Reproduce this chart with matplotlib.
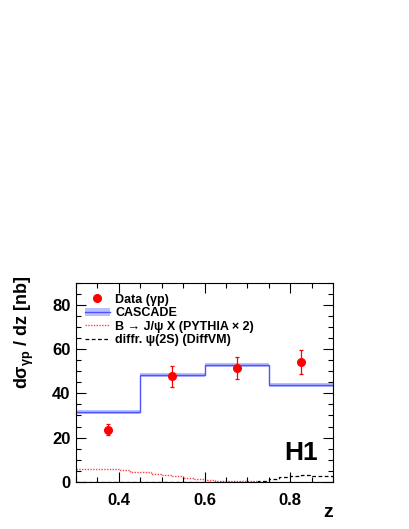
import matplotlib
matplotlib.use("Agg")
import matplotlib.pyplot as plt
import numpy as np
from matplotlib.lines import Line2D
from matplotlib.patches import Patch
from matplotlib.ticker import MultipleLocator

plt.rcParams['font.family'] = ['Liberation Sans', 'DejaVu Sans']
plt.rcParams['font.weight'] = 'bold'
plt.rcParams['mathtext.fontset'] = 'custom'
plt.rcParams['mathtext.rm'] = 'Liberation Sans:bold'
plt.rcParams['mathtext.it'] = 'Liberation Sans:bold'
plt.rcParams['mathtext.bf'] = 'Liberation Sans:bold'

# data points (gamma p)
z_data = [0.375, 0.525, 0.675, 0.825]
xs_data = [23.6, 47.7, 51.5, 54.3]
xs_err = [2.5, 4.6, 5.0, 5.5]

# CASCADE histogram
casc_edges = [0.3, 0.45, 0.6, 0.75, 0.9]
casc_vals = [31.5, 48.4, 52.8, 43.8]
casc_band = 0.9

# B -> J/psi X (PYTHIA x 2), fine bins
fine_edges = np.linspace(0.3, 0.9, 25)
bdecay_vals = [5.6, 5.6, 5.6, 5.6, 5.2, 4.6, 4.2, 3.6, 3.0, 2.4, 1.6, 1.2,
               0.9, 0.5, 0.3, 0.2, 0.1, 0.05, 0.03, 0.02, 0.02, 0.01, 0.01, 0.01]
# diffractive psi(2S)
diffr_vals = [0, 0, 0, 0, 0, 0, 0, 0, 0, 0, 0, 0,
              0, 0, 0, 0, 0, 0.4, 1.4, 2.0, 2.8, 2.9, 2.8, 2.8]

band_col = "#a8aeff"
line_col = "#4a55ff"

fig = plt.figure(figsize=(4.09, 5.29), dpi=100)
ax = fig.add_axes([0.186, 0.0894, 0.628, 0.3756])

# cascade band + line
ax.stairs(np.array(casc_vals) + casc_band, casc_edges,
          baseline=np.array(casc_vals) - casc_band, fill=True,
          color=band_col, alpha=0.8, linewidth=0)
ax.stairs(casc_vals, casc_edges, baseline=None, color=line_col, linewidth=1.0)

ax.stairs(bdecay_vals, fine_edges, baseline=None, color="#ff4040",
          linestyle=(0, (1, 1)), linewidth=1.0)
ax.stairs(diffr_vals, fine_edges, baseline=None, color="black",
          linestyle=(0, (3, 2)), linewidth=0.9)

ax.errorbar(z_data, xs_data, yerr=xs_err, fmt="o", color="red", markersize=5.5,
            elinewidth=0.9, capsize=1.5, capthick=0.9)

ax.set_xlim(0.3, 0.9)
ax.set_ylim(0, 90)
ax.xaxis.set_major_locator(MultipleLocator(0.2))
ax.xaxis.set_minor_locator(MultipleLocator(0.05))
ax.yaxis.set_major_locator(MultipleLocator(20))
ax.yaxis.set_minor_locator(MultipleLocator(5))
ax.tick_params(which="both", direction="in", top=True, right=True, width=0.8)
ax.tick_params(which="major", length=7, labelsize=12)
ax.tick_params(axis="x", which="major", pad=8)
ax.tick_params(axis="y", which="major", pad=4)
ax.tick_params(which="minor", length=3.5)
for lbl in ax.get_xticklabels() + ax.get_yticklabels():
    lbl.set_fontweight("bold")
for sp in ax.spines.values():
    sp.set_linewidth(0.8)

ax.set_ylabel(r"d$\sigma_{\gamma p}$ / dz [nb]", fontsize=13, fontweight="bold")
ax.yaxis.set_label_coords(-0.155, 0.75)
fig.text(0.802, 0.022, "z", fontsize=14, fontweight="bold", ha="center")

ax.text(0.94, 0.11, "H1", transform=ax.transAxes, fontsize=19, fontweight="bold", ha="right")

handles = [
    Line2D([], [], marker="o", color="red", linestyle="none", markersize=5.5),
    (Patch(facecolor=band_col, alpha=0.8, linewidth=0),
     Line2D([], [], color=line_col, linewidth=1.0)),
    Line2D([], [], color="#ff4040", linestyle=(0, (1, 1)), linewidth=1.0),
    Line2D([], [], color="black", linestyle=(0, (3, 2)), linewidth=0.9),
]
labels = [u"Data (\u03b3p)", "CASCADE", u"B \u2192 J/\u03c8 X (PYTHIA \u00d7 2)",
          u"diffr. \u03c8(2S) (DiffVM)"]
leg = ax.legend(handles, labels, loc="upper left", bbox_to_anchor=(0.0, 0.99),
                frameon=False, fontsize=9, handlelength=2.0, handletextpad=0.45,
                labelspacing=0.12, borderaxespad=0.3)
for t in leg.get_texts():
    t.set_fontweight("bold")

fig.savefig("out.png", dpi=100)
